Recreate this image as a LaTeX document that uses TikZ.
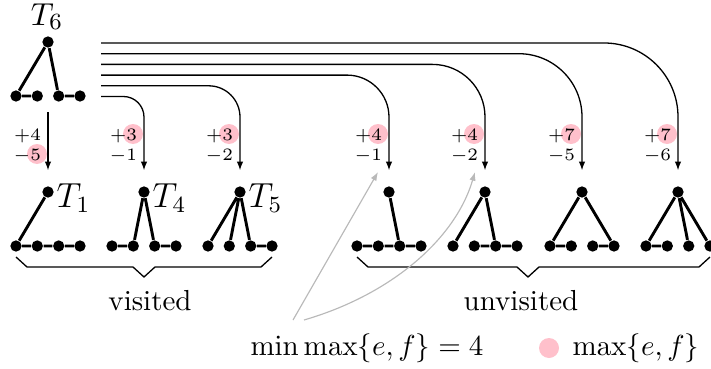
\documentclass[tikz,border=0pt]{standalone}
\usetikzlibrary{arrows.meta}
\definecolor{hlpink}{RGB}{255,192,203}
\definecolor{arrgray}{RGB}{185,185,185}
\newcommand{\mktree}[3]{%
  \node[dot] (#1r) at (#2,#3) {};
  \node[dot] (#1a) at ({#2-32},{#3+54}) {};
  \node[dot] (#1b) at ({#2-10.7},{#3+54}) {};
  \node[dot] (#1c) at ({#2+10.7},{#3+54}) {};
  \node[dot] (#1d) at ({#2+32},{#3+54}) {};
}
\begin{document}
\begin{tikzpicture}[x=0.345pt,y=-0.345pt,
  dot/.style={circle,fill=black,inner sep=0pt,minimum size=3.9pt},
  tedge/.style={line width=1pt},
  conn/.style={line width=0.45pt,-{Latex[length=3pt,width=2.2pt]},shorten >=5.3pt},
  garr/.style={arrgray,line width=0.4pt,-{Latex[length=3pt,width=2.2pt]}},
  lab/.style={font=\fontsize{6.5}{7.5}\selectfont,inner sep=0pt,anchor=base east},
  brc/.style={line width=0.45pt},
  tlab/.style={inner sep=0pt,anchor=base west,font=\fontsize{11.5}{13}\selectfont}]
\useasboundingbox (0,0) rectangle (711,369);

% highlight circles
\fill[hlpink] (37,154) circle (3.45pt);
\fill[hlpink] (133,134) circle (3.45pt);
\fill[hlpink] (229,134) circle (3.45pt);
\fill[hlpink] (378,134) circle (3.45pt);
\fill[hlpink] (474,134) circle (3.45pt);
\fill[hlpink] (571,134) circle (3.45pt);
\fill[hlpink] (667,134) circle (3.45pt);

% trees
\mktree{S}{48}{42}
\mktree{A}{48}{192}
\mktree{B}{144}{192}
\mktree{C}{240}{192}
\mktree{D}{389}{192}
\mktree{E}{485}{192}
\mktree{F}{582}{192}
\mktree{G}{678}{192}

\draw[tedge] (Sr)--(Sa) (Sr)--(Sc) (Sa)--(Sb) (Sc)--(Sd);
\draw[tedge] (Ar)--(Aa) (Aa)--(Ab)--(Ac)--(Ad);
\draw[tedge] (Br)--(Bb) (Br)--(Bc) (Ba)--(Bb) (Bc)--(Bd);
\draw[tedge] (Cr)--(Ca) (Cr)--(Cb) (Cr)--(Cc) (Cc)--(Cd);
\draw[tedge] (Dr)--(Dc) (Da)--(Db)--(Dc)--(Dd);
\draw[tedge] (Er)--(Ea) (Er)--(Ec) (Eb)--(Ec)--(Ed);
\draw[tedge] (Fr)--(Fa) (Fr)--(Fd) (Fa)--(Fb) (Fc)--(Fd);
\draw[tedge] (Gr)--(Ga) (Gr)--(Gc) (Gr)--(Gd) (Ga)--(Gb);

% tree labels
\node[inner sep=0pt,anchor=base,font=\fontsize{11}{13}\selectfont] (T6) at (47,25) {$T_6$};
\node[tlab] (T1) at (56,207) {$T_1$};
\node[tlab] (T4) at (152,207) {$T_4$};
\node[tlab] (T5) at (248,207) {$T_5$};

% connectors
\coordinate (s1) at (48,112);
\coordinate (s2) at (101,96.5);
\coordinate (s3) at (101,85.8);
\coordinate (s4) at (101,75.1);
\coordinate (s5) at (101,64.4);
\coordinate (s6) at (101,53.7);
\coordinate (s7) at (101,43);
\draw[conn] (s1) -- (Ar);
\draw[conn,rounded corners=7.1pt] (s2) -| (Br);
\draw[conn,rounded corners=10.8pt] (s3) -| (Cr);
\draw[conn,rounded corners=14.5pt] (s4) -| (Dr);
\draw[conn,rounded corners=18.1pt] (s5) -| (Er);
\draw[conn,rounded corners=21.8pt] (s6) -| (Fr);
\draw[conn,rounded corners=25.5pt] (s7) -| (Gr);

% labels
\node[lab] (pA) at (41.7,140) {$+4$};
\node[lab] (mA) at (41.7,160) {$-5$};
\node[lab] (pB) at (137.7,140) {$+3$};
\node[lab] (mB) at (137.7,160) {$-1$};
\node[lab] (pC) at (233.7,140) {$+3$};
\node[lab] (mC) at (233.7,160) {$-2$};
\node[lab] (pD) at (382.7,140) {$+4$};
\node[lab] (mD) at (382.7,160) {$-1$};
\node[lab] (pE) at (478.7,140) {$+4$};
\node[lab] (mE) at (478.7,160) {$-2$};
\node[lab] (pF) at (575.7,140) {$+7$};
\node[lab] (mF) at (575.7,160) {$-5$};
\node[lab] (pG) at (671.7,140) {$+7$};
\node[lab] (mG) at (671.7,160) {$-6$};

% braces
\draw[brc] (16,257) -- (27,267) -- (133,267) -- (144,277) -- (155,267) -- (261,267) -- (272,257);
\draw[brc] (357,257) -- (368,267) -- (517,267) -- (528,277) -- (539,267) -- (699,267) -- (710,257);
\node[inner sep=0pt,anchor=base] (vis) at (150,310) {visited};
\node[inner sep=0pt,anchor=base] (unvis) at (521,310) {unvisited};

% bottom
\node[inner sep=0pt,anchor=base] (mm) at (367,355) {$\min\max\{e,f\}=4$};
\fill[hlpink] (549,348) circle (3.45pt);
\node[inner sep=0pt,anchor=base west] (leg) at (572,355) {$\max\{e,f\}$};

\coordinate (g1) at (293,320);
\coordinate (g1e) at (378,172);
\coordinate (g2) at (304,320);
\coordinate (g2e) at (475,172);
\draw[garr] (g1) -- (g1e);
\draw[garr] (g2) .. controls (390,295) and (455,240) .. (g2e);
\end{tikzpicture}
\end{document}
